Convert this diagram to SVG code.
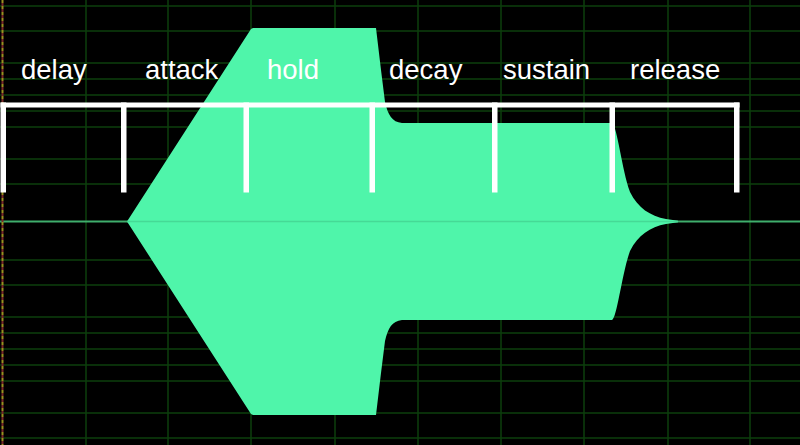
<svg xmlns="http://www.w3.org/2000/svg" width="800" height="445" viewBox="0 0 800 445">
  <style>
    .grid line { stroke: #0c3f0c; stroke-width: 1.5; }
    .lbl { font-family: "Liberation Sans", Arial, sans-serif; font-size: 27.5px; fill: #ffffff; }
    .brk { fill: #ffffff; }
  </style>
  <rect x="0" y="0" width="800" height="445" fill="#000000"/>
  <g id="grid" class="grid">
    <line x1="86" y1="0" x2="86" y2="445"/>
    <line x1="168" y1="0" x2="168" y2="445"/>
    <line x1="251" y1="0" x2="251" y2="445"/>
    <line x1="335" y1="0" x2="335" y2="445"/>
    <line x1="418" y1="0" x2="418" y2="445"/>
    <line x1="501" y1="0" x2="501" y2="445"/>
    <line x1="584" y1="0" x2="584" y2="445"/>
    <line x1="668" y1="0" x2="668" y2="445"/>
    <line x1="750" y1="0" x2="750" y2="445"/>
    <line x1="0" y1="6" x2="800" y2="6"/>
    <line x1="0" y1="31" x2="800" y2="31"/>
    <line x1="0" y1="63" x2="800" y2="63"/>
    <line x1="0" y1="79" x2="800" y2="79"/>
    <line x1="0" y1="95" x2="800" y2="95"/>
    <line x1="0" y1="111" x2="800" y2="111"/>
    <line x1="0" y1="127" x2="800" y2="127"/>
    <line x1="0" y1="159" x2="800" y2="159"/>
    <line x1="0" y1="184" x2="800" y2="184"/>
    <line x1="0" y1="260" x2="800" y2="260"/>
    <line x1="0" y1="285" x2="800" y2="285"/>
    <line x1="0" y1="317" x2="800" y2="317"/>
    <line x1="0" y1="333" x2="800" y2="333"/>
    <line x1="0" y1="349" x2="800" y2="349"/>
    <line x1="0" y1="365" x2="800" y2="365"/>
    <line x1="0" y1="381" x2="800" y2="381"/>
    <line x1="0" y1="413" x2="800" y2="413"/>
    <line x1="0" y1="438" x2="800" y2="438"/>
  </g>
  <g id="axis">
    <line x1="0" y1="221.5" x2="800" y2="221.5" stroke="#3fae6c" stroke-width="2"/>
    <line x1="2.5" y1="0" x2="2.5" y2="445" stroke="#9a9020" stroke-width="2" stroke-dasharray="3 3"/>
    <line x1="2.5" y1="3" x2="2.5" y2="445" stroke="#7a2a2a" stroke-width="2" stroke-dasharray="3 3"/>
  </g>
  <g id="waveform">
    <path fill="#4ff5aa" d="M 127 221.5 L 251 29 L 253 28 L 376 28 L 381 70 L 385 102 C 388 115 392 122 402 123 L 612 123 C 617 125 622 170 630 192 C 638 208 650 216 666 219 L 678 220.8 L 678 222.2 L 666 224 C 650 227 638 235 630 251 C 622 273 617 318 612 320 L 402 320 C 392 321 388 328 385 341 L 381 373 L 376 415 L 253 415 L 251 414 Z"/>
    <line x1="127" y1="221.5" x2="678" y2="221.5" stroke="#3fc888" stroke-width="1.5" stroke-opacity="0.6"/>
  </g>
  <g id="bracket" class="brk">
    <rect x="0.5" y="102.5" width="739" height="5"/>
    <rect x="0.5" y="102.5" width="5.5" height="90"/>
    <rect x="121" y="102.5" width="5.5" height="90"/>
    <rect x="243.5" y="102.5" width="5.5" height="90"/>
    <rect x="369.5" y="102.5" width="5.5" height="90"/>
    <rect x="492" y="102.5" width="5.5" height="90"/>
    <rect x="609.5" y="102.5" width="5.5" height="90"/>
    <rect x="734" y="102.5" width="5.5" height="90"/>
  </g>
  <g id="labels" class="lbl">
    <text x="21" y="79">delay</text>
    <text x="145" y="79">attack</text>
    <text x="267" y="79">hold</text>
    <text x="389" y="79">decay</text>
    <text x="503" y="79">sustain</text>
    <text x="630" y="79">release</text>
  </g>
</svg>
